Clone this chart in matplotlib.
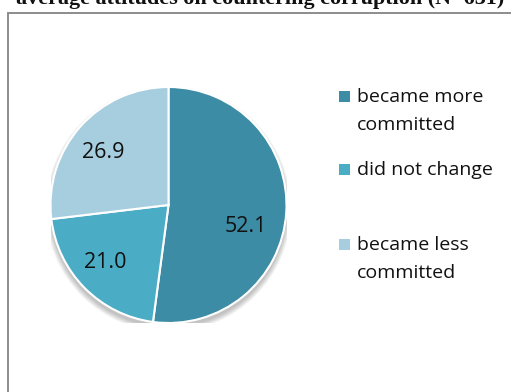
import matplotlib
matplotlib.use("Agg")
import matplotlib.pyplot as plt
from matplotlib.patches import Circle, Rectangle

# shares of respondents (%)
categories = ["became more\ncommitted", "did not change", "became less\ncommitted"]
shares = [52.1, 21.0, 26.9]
colors = ["#3c8ca5", "#4bacc6", "#a7cede"]

title = "average attitudes on countering corruption (N=631)"

W, H = 511, 392
fig = plt.figure(figsize=(W / 100, H / 100), dpi=100)

# chart frame (open on the right and bottom edges)
frame = Rectangle((7.5 / W, -0.05), 1.2, 1 - 12.5 / H + 0.05,
                  transform=fig.transFigure, fill=False,
                  edgecolor="#8c8c8c", linewidth=1.4)
fig.add_artist(frame)

# title runs off the top edge; squeeze its size so it spans x=16..505
ttl = fig.text(16 / W, 1 - 4 / H, title, fontsize=14, fontweight="bold",
               family="Liberation Serif", ha="left", va="baseline", color="#111111")
fig.canvas.draw()
tw = ttl.get_window_extent().width
ttl.set_fontsize(14 * 489 / tw)

r_px = 118
cx, cy = 168.5, H - 205
ax = fig.add_axes([(cx - r_px) / W, (cy - r_px) / H, 2 * r_px / W, 2 * r_px / H])

# soft drop shadow under the pie
for k in range(8):
    ax.add_patch(Circle((0, -0.035), 1.0 + 0.006 * k, color="black",
                        alpha=0.03, zorder=0, linewidth=0))

wedges, texts, autotexts = ax.pie(
    shares, colors=colors, startangle=90, counterclock=False,
    autopct="%.1f", pctdistance=0.7,
    wedgeprops=dict(edgecolor="white", linewidth=1.5),
    textprops=dict(fontsize=15.5, family="Open Sans", color="#111111"),
)
for w in wedges:
    w.set_zorder(2)
for t in autotexts:
    t.set_zorder(3)
# label positions, pie radius units
autotexts[0].set_position((77.5 / r_px, -22 / r_px))
autotexts[1].set_position((-63.5 / r_px, -57 / r_px))
autotexts[2].set_position((-65 / r_px, 52 / r_px))

ax.set_xlim(-1, 1)
ax.set_ylim(-1, 1)
ax.set_aspect("equal")
ax.axis("off")

# legend entries: square + one text per line (baselines in px from top)
leg_base = [102, 175, 250]
line_gap = 28
for lab, col, yb in zip(categories, colors, leg_base):
    fig.add_artist(Rectangle((338.5 / W, (H - yb) / H), 11 / W, 11 / H,
                             transform=fig.transFigure,
                             facecolor=col, edgecolor="none"))
    for i, line in enumerate(lab.split("\n")):
        fig.text(357 / W, (H - yb - i * line_gap) / H, line, fontsize=14,
                 family="Open Sans", ha="left", va="baseline", color="#111111")

fig.savefig("out.png", dpi=100)
